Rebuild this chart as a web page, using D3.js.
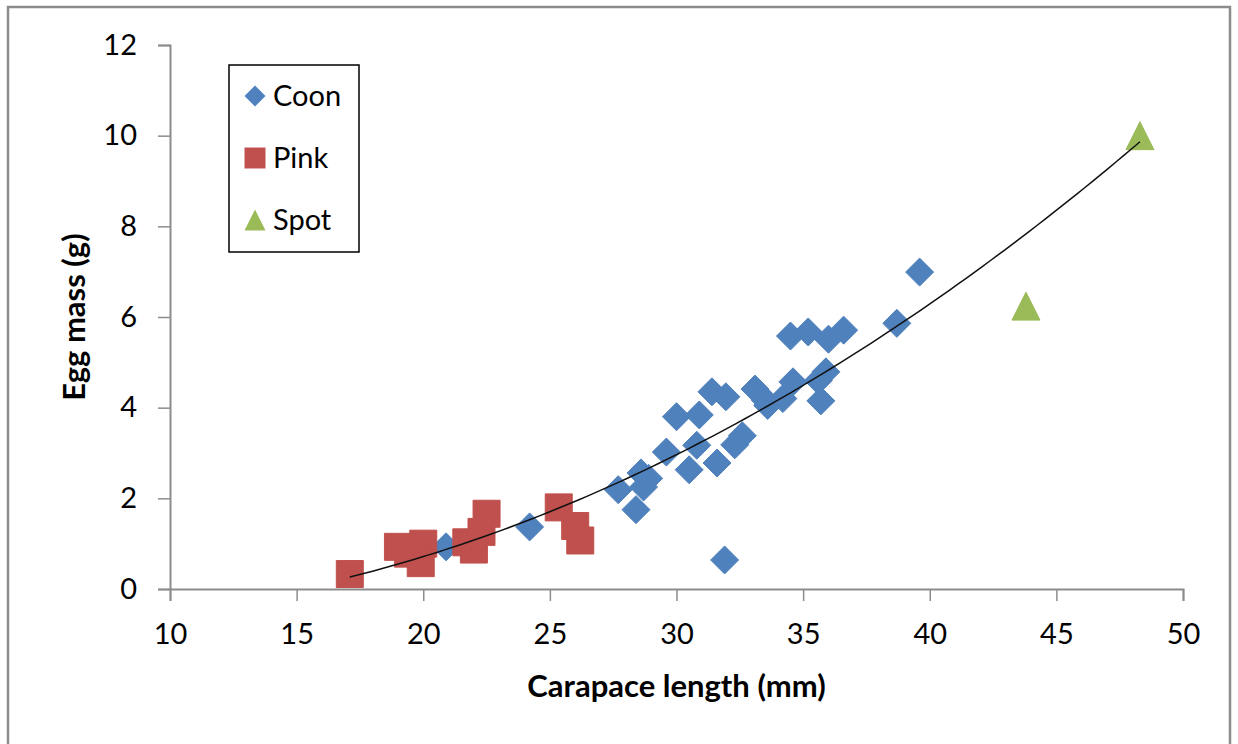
<!DOCTYPE html>
<html lang="en">
<head>
<meta charset="utf-8" />
<title>Egg mass vs carapace length</title>
<style>
html,body{margin:0;height:100%;background:#fff}
svg{display:block}
text{font-family:Lato,"Open Sans",sans-serif;fill:#000}
</style>
<script src="https://cdn.jsdelivr.net/npm/d3@7/dist/d3.min.js"></script>
</head>
<body>
<div id="chart"></div>

<script>
/* ------------------------------ data ---------------------------------- */
const coonX = [20.9, 24.2, 31.9, 27.7, 28.4, 28.6, 28.7, 28.9, 29.6, 30.0, 30.9, 30.8,
               30.5, 31.6, 32.3, 32.6, 31.4, 31.95, 33.1, 33.5, 33.6, 34.2, 34.6,
               34.5, 35.2, 36.0, 36.6, 35.7, 35.9, 35.6, 38.7, 39.6];
const coonY = [0.93, 1.37, 0.64, 2.19, 1.75, 2.56, 2.25, 2.44, 3.02, 3.80, 3.84, 3.17,
               2.63, 2.78, 3.18, 3.38, 4.35, 4.24, 4.41, 4.17, 4.05, 4.20, 4.57,
               5.58, 5.67, 5.51, 5.71, 4.15, 4.79, 4.60, 5.86, 6.99];

const pinkX = [17.1, 19.0, 20.0, 19.9, 19.4, 21.7, 22.0, 22.3, 22.5, 25.35, 26.0, 26.2];
const pinkY = [0.33, 0.93, 1.00, 0.57, 0.78, 1.03, 0.87, 1.26, 1.66, 1.80, 1.39, 1.07];

const spotX = [43.8, 48.3];
const spotY = [6.24, 10.0];

const seriesNames  = ["Coon", "Pink", "Spot"];
const seriesColors = ["#4f81bd", "#c0504d", "#9bbb59"];
const xTicks = [10, 15, 20, 25, 30, 35, 40, 45, 50];
const yTicks = [0, 2, 4, 6, 8, 10, 12];

/* ----------------------------- layout --------------------------------- */
const W = 1238, H = 744;
const plot = {left: 170, right: 1183, top: 45, bottom: 589};

const svg = d3.select("#chart").append("svg")
  .attr("width", W).attr("height", H);

// outer chart frame
svg.append("rect")
  .attr("x", 8).attr("y", 7).attr("width", 1222).attr("height", 760)
  .attr("fill", "none").attr("stroke", "#8c8c8c").attr("stroke-width", 2.5);

const x = d3.scaleLinear().domain([10, 50]).range([plot.left, plot.right]);
const y = d3.scaleLinear().domain([0, 12]).range([plot.bottom, plot.top]);

/* ------------------------------ axes ---------------------------------- */
const xAxis = svg.append("g")
  .attr("transform", `translate(0,${plot.bottom})`)
  .call(d3.axisBottom(x).tickValues(xTicks).tickSize(12).tickPadding(22));
const yAxis = svg.append("g")
  .attr("transform", `translate(${plot.left},0)`)
  .call(d3.axisLeft(y).tickValues(yTicks).tickSize(12).tickPadding(21));

[xAxis, yAxis].forEach(g => {
  g.select(".domain").attr("stroke", "#8c8c8c").attr("stroke-width", 2);
  g.selectAll(".tick line").attr("stroke", "#8c8c8c").attr("stroke-width", 1.5);
  g.selectAll(".tick text").attr("font-size", 29).attr("fill", "#000")
   .attr("font-family", "Lato, 'Open Sans', sans-serif");
});

svg.append("text")
  .attr("x", (plot.left + plot.right) / 2).attr("y", 697)
  .attr("text-anchor", "middle").attr("font-size", 31).attr("font-weight", "bold")
  .text("Carapace length (mm)");

svg.append("text")
  .attr("transform", `translate(85,317) rotate(-90)`)
  .attr("text-anchor", "middle").attr("font-size", 31).attr("font-weight", "bold")
  .text("Egg mass (g)");

/* --------------------------- trend line ------------------------------- */
// least-squares quadratic through every point (all three series)
const allX = coonX.concat(pinkX, spotX), allY = coonY.concat(pinkY, spotY);
function quadFit(xs, ys) {
  const S = k => d3.sum(xs, v => Math.pow(v, k));
  const T = k => d3.sum(xs, (v, i) => Math.pow(v, k) * ys[i]);
  const M = [[S(0), S(1), S(2), T(0)],
             [S(1), S(2), S(3), T(1)],
             [S(2), S(3), S(4), T(2)]];
  for (let c = 0; c < 3; c++) {
    for (let r = c + 1; r < 3; r++) {
      const f = M[r][c] / M[c][c];
      for (let k = c; k < 4; k++) M[r][k] -= f * M[c][k];
    }
  }
  const b = [0, 0, 0];
  for (let r = 2; r >= 0; r--) {
    let s = M[r][3];
    for (let k = r + 1; k < 3; k++) s -= M[r][k] * b[k];
    b[r] = s / M[r][r];
  }
  return b;
}
const coef = quadFit(allX, allY);
const [x0, x1] = d3.extent(allX);
const trend = d3.range(0, 101).map(i => {
  const xv = x0 + (x1 - x0) * i / 100;
  return [xv, coef[0] + coef[1] * xv + coef[2] * xv * xv];
});

/* ----------------------------- markers -------------------------------- */
function shape(kind, s) {
  const h = s / 2;
  if (kind === 0) return `M0,${-h}L${h},0L0,${h}L${-h},0Z`;
  if (kind === 1) return `M${-h},${-h}H${h}V${h}H${-h}Z`;
  return `M0,${-h}L${h},${h}L${-h},${h}Z`;
}

const series = [
  {xs: coonX, ys: coonY, size: 28},
  {xs: pinkX, ys: pinkY, size: 27},
  {xs: spotX, ys: spotY, size: 28}
];

series.forEach((s, k) => {
  svg.append("g").selectAll("path")
    .data(s.xs.map((v, i) => [v, s.ys[i]]))
    .join("path")
      .attr("transform", d => `translate(${x(d[0])},${y(d[1])})`)
      .attr("d", shape(k, s.size))
      .attr("fill", seriesColors[k])
      .attr("stroke", seriesColors[k]).attr("stroke-width", 1)
      .attr("stroke-linejoin", "round");
});

svg.append("path")
  .datum(trend)
  .attr("fill", "none").attr("stroke", "#111").attr("stroke-width", 1.5)
  .attr("d", d3.line().x(d => x(d[0])).y(d => y(d[1])));

/* ------------------------------ legend -------------------------------- */
const legend = svg.append("g");
legend.append("rect")
  .attr("x", 229).attr("y", 65).attr("width", 130).attr("height", 187)
  .attr("fill", "#fff").attr("stroke", "#000").attr("stroke-width", 1.5);

seriesNames.forEach((name, k) => {
  const cy = 96 + k * 62;
  legend.append("path")
    .attr("transform", `translate(255,${cy})`)
    .attr("d", shape(k, 21))
    .attr("fill", seriesColors[k]);
  legend.append("text")
    .attr("x", 273).attr("y", cy).attr("dy", "0.36em")
    .attr("font-size", 29).text(name);
});
</script>
</body>
</html>
